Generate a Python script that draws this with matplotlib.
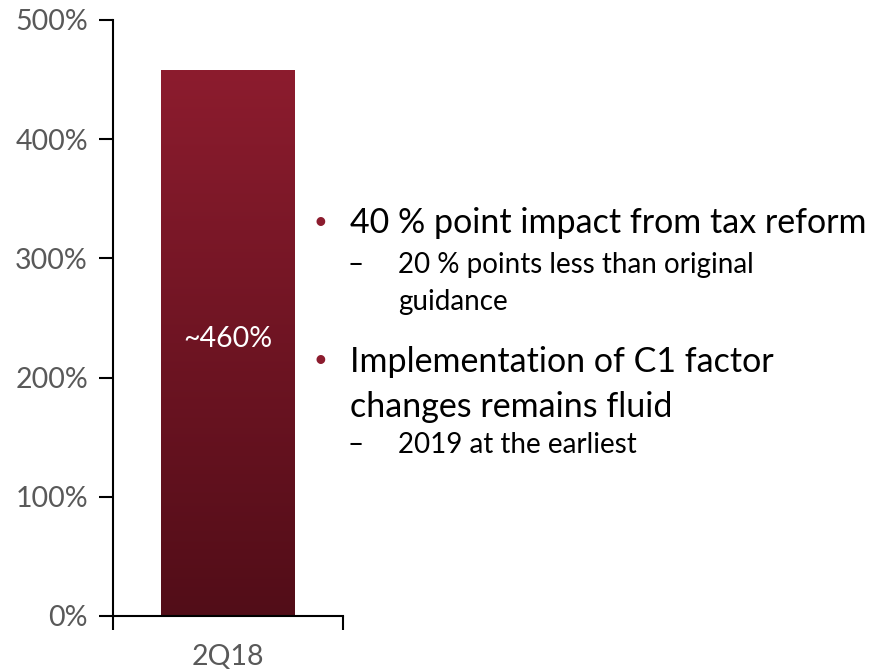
import numpy as np
import matplotlib.pyplot as plt
from matplotlib.colors import LinearSegmentedColormap

plt.rcParams['font.family'] = ['Lato', 'DejaVu Sans']

# data
categories = ["2Q18"]
values = [458]
bar_labels = ["~460%"]
yticks = [0, 100, 200, 300, 400, 500]

bullets = [
    (["40 % point impact from tax reform"], [["20 % points less than original", "guidance"]]),
    (["Implementation of C1 factor", "changes remains fluid"], [["2019 at the earliest"]]),
]

fig = plt.figure(figsize=(8.75, 6.69), dpi=100)
ax = fig.add_axes([113 / 875, 53 / 669, 230 / 875, 596 / 669])

x = np.arange(len(categories))
bars = ax.bar(x, values, width=0.58, color="none", edgecolor="none")

# vertical gradient fill, dark at the bottom
cmap = LinearSegmentedColormap.from_list("wine", ["#520d18", "#8c1c2e"])
grad = np.linspace(0, 1, 256).reshape(-1, 1)
for b in bars:
    x0, w, h = b.get_x(), b.get_width(), b.get_height()
    im = ax.imshow(grad, cmap=cmap, origin="lower", aspect="auto",
                   extent=[x0, x0 + w, 0, h], zorder=2)
    im.set_clip_path(b)

for xi, v, lab in zip(x, values, bar_labels):
    ax.text(xi, 232, lab, color="white", fontsize=20.5, ha="center", va="center", zorder=3)

ax.set_xlim(-0.5, 0.5)
ax.set_ylim(0, 500)
ax.set_yticks(yticks)
ax.set_yticklabels([f"{t}%" for t in yticks])
ax.set_xticks(x)
ax.set_xticklabels(categories)
ax.set_xticks([-0.5, 0.5], minor=True)
ax.tick_params(axis="x", which="major", length=0, pad=20, labelsize=20.5, labelcolor="#595959")
ax.tick_params(axis="x", which="minor", length=10, width=1.5, direction="out")
ax.tick_params(axis="y", length=10, width=1.5, direction="out", pad=8,
               labelsize=20.5, labelcolor="#595959")
for s in ["top", "right"]:
    ax.spines[s].set_visible(False)
for s in ["left", "bottom"]:
    ax.spines[s].set_linewidth(1.5)
ax.spines["bottom"].set_bounds(-0.5, 0.5)

# bullet text on the right (baselines in pixels from the top)
main_base = [[233, 278], [372, 417]]
sub_base = [[[273, 310]], [[453]]]
dot_y = [222, 360]


def fy(p):
    return 1 - p / 669


for (heads, subs), mb, sb, dy in zip(bullets, main_base, sub_base, dot_y):
    fig.text(320 / 875, fy(dy), "\u2022", color="#8c1c2e", fontsize=17, va="center", ha="center")
    for line, yb in zip(heads, mb):
        fig.text(350 / 875, fy(yb), line, fontsize=24.5, va="baseline", ha="left")
    for sub, ybs in zip(subs, sb):
        fig.text(347 / 875, fy(ybs[0] - 8), "\u2013", fontsize=20, va="center", ha="left")
        for line, yb in zip(sub, ybs):
            fig.text(398 / 875, fy(yb), line, fontsize=20, va="baseline", ha="left")

fig.savefig("out.png", dpi=100)
